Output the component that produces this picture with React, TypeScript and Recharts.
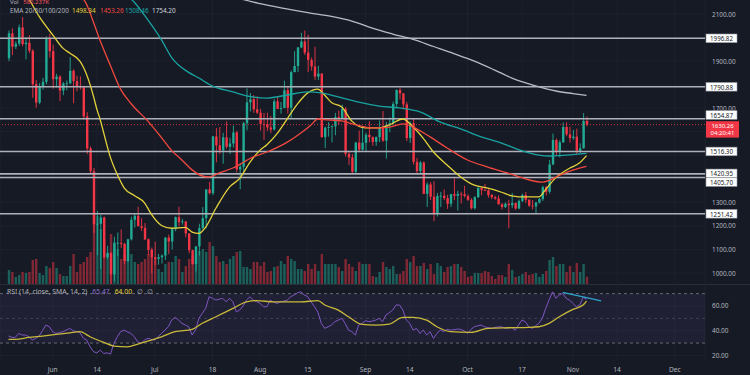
import React from 'react';
import { ComposedChart, Bar, Line, XAxis, YAxis, CartesianGrid, ReferenceLine, ReferenceArea } from 'recharts';

const FONT = '"Noto Sans", "DejaVu Sans", sans-serif';
const BG = '#161a25';
const GRID = '#1d212c';
const TEXT = '#b2b5be';
const UP = '#22ab94';
const DOWN = '#f23645';
const UP_VOL = 'rgba(34,171,148,0.48)';
const DOWN_VOL = 'rgba(242,54,69,0.48)';

// day offsets relative to 2022-06-01; first candle is 2022-05-19
const FIRST_DAY = -13;

const opens = [
  1912, 2018, 1961, 1974, 2043, 1972, 1978, 1944, 1802, 1724, 1793, 1812, 1996,
  1942, 1823, 1834, 1775, 1805, 1806, 1859, 1815, 1792, 1789, 1665, 1529,
  1432, 1207, 1209, 1236, 1067, 1086, 994, 1126, 1128, 1124, 1051, 1143, 1226, 1243, 1199, 1192, 1143, 1098,
  1067, 1060, 1067, 1074, 1150, 1134, 1186, 1237, 1216, 1219, 1168, 1097, 1038, 1113, 1191, 1233, 1355, 1339, 1580, 1542, 1521, 1576, 1536, 1550, 1597, 1440, 1451, 1636, 1725, 1738, 1695,
  1681, 1633, 1631, 1618, 1609, 1729, 1697, 1701, 1776, 1702, 1853, 1879, 1958, 1983, 1936, 1905, 1877, 1834, 1847, 1577, 1617, 1620, 1623, 1662, 1657, 1697, 1506, 1491, 1430, 1554, 1524,
  1553, 1587, 1577, 1557, 1577, 1617, 1562, 1630, 1636, 1718, 1777, 1763, 1716, 1573, 1637, 1472, 1433, 1469, 1336, 1376, 1324, 1252, 1327, 1328, 1318, 1294, 1335, 1328, 1336, 1334,
  1327, 1311, 1275, 1322, 1362, 1352, 1351, 1331, 1322, 1316, 1292, 1280, 1294, 1288, 1297, 1274, 1306, 1331, 1311, 1286, 1283, 1299, 1314, 1364, 1345, 1461, 1565, 1514, 1555, 1620, 1589,
  1573, 1579, 1519, 1530, 1646,
];
const highs = [
  2030, 2039, 1984, 2055, 2087, 1999, 2010, 1950, 1819, 1806, 1829, 2005, 2016,
  1970, 1846, 1840, 1811, 1818, 1917, 1865, 1838, 1835, 1792, 1683, 1538,
  1446, 1264, 1248, 1240, 1116, 1087, 1154, 1172, 1185, 1128, 1146, 1239, 1250, 1281, 1233, 1212, 1147, 1108,
  1133, 1081, 1079, 1153, 1163, 1192, 1240, 1281, 1230, 1221, 1169, 1099, 1114, 1209, 1280, 1355, 1387, 1582, 1616, 1620, 1595, 1644, 1574, 1626, 1604, 1466, 1642, 1784, 1764, 1756, 1750,
  1697, 1680, 1681, 1667, 1740, 1746, 1726, 1817, 1790, 1860, 1942, 1960, 2020, 2030, 2012, 1915, 1961, 1880, 1849, 1622, 1641, 1627, 1680, 1690, 1715, 1705, 1516, 1505, 1557, 1605, 1618,
  1595, 1645, 1580, 1580, 1648, 1688, 1641, 1660, 1728, 1780, 1787, 1764, 1727, 1644, 1655, 1489, 1476, 1474, 1385, 1386, 1390, 1340, 1345, 1355, 1332, 1336, 1402, 1349, 1345, 1370,
  1334, 1318, 1327, 1364, 1364, 1378, 1356, 1336, 1328, 1329, 1297, 1300, 1311, 1340, 1300, 1312, 1337, 1344, 1314, 1310, 1303, 1318, 1371, 1370, 1480, 1592, 1571, 1564, 1639, 1640, 1621,
  1608, 1613, 1551, 1679, 1665,
];
const lows = [
  1900, 1926, 1951, 1964, 1963, 1907, 1934, 1744, 1702, 1717, 1778, 1802, 1915,
  1783, 1787, 1730, 1755, 1776, 1802, 1721, 1772, 1779, 1652, 1505, 1421,
  1170, 1076, 1018, 1061, 1058, 881, 965, 1072, 1107, 1038, 1046, 1138, 1193, 1198, 1179, 1140, 1076, 998,
  1033, 1035, 1040, 1055, 1080, 1100, 1177, 1198, 1205, 1151, 1084, 1035, 1006, 1074, 1185, 1190, 1333, 1331, 1470, 1506, 1464, 1528, 1505, 1533, 1427, 1356, 1431, 1606, 1686, 1680, 1675,
  1605, 1565, 1603, 1594, 1606, 1696, 1677, 1700, 1677, 1655, 1853, 1853, 1955, 1926, 1853, 1860, 1820, 1820, 1575, 1530, 1579, 1555, 1585, 1630, 1654, 1495, 1459, 1423, 1423, 1513, 1520,
  1516, 1555, 1540, 1540, 1556, 1557, 1486, 1598, 1630, 1700, 1737, 1695, 1560, 1553, 1460, 1425, 1420, 1335, 1281, 1310, 1220, 1240, 1280, 1310, 1272, 1280, 1309, 1265, 1295, 1320,
  1306, 1270, 1270, 1319, 1330, 1349, 1320, 1314, 1311, 1291, 1270, 1276, 1190, 1275, 1268, 1271, 1301, 1297, 1281, 1270, 1255, 1295, 1306, 1329, 1337, 1458, 1500, 1491, 1553, 1581, 1554,
  1566, 1505, 1510, 1528, 1623,
];
const closes = [
  2018, 1961, 1974, 2043, 1972, 1978, 1944, 1802, 1724, 1793, 1812, 1996, 1942,
  1823, 1834, 1775, 1805, 1806, 1859, 1815, 1792, 1789, 1665, 1529, 1432,
  1207, 1209, 1236, 1067, 1086, 994, 1126, 1128, 1124, 1051, 1143, 1226, 1243, 1199, 1192, 1143, 1098, 1067,
  1060, 1067, 1074, 1150, 1134, 1186, 1237, 1216, 1219, 1168, 1097, 1038, 1113, 1191, 1233, 1355, 1339, 1580, 1542, 1521, 1576, 1536, 1550, 1597, 1440, 1451, 1636, 1725, 1738, 1695, 1681,
  1633, 1631, 1618, 1609, 1729, 1697, 1701, 1776, 1702, 1853, 1879, 1958, 1983, 1936, 1905, 1877, 1834, 1847, 1577, 1617, 1620, 1623, 1662, 1657, 1697, 1506, 1491, 1430, 1554, 1524, 1553,
  1587, 1577, 1557, 1577, 1617, 1562, 1630, 1636, 1718, 1777, 1763, 1716, 1573, 1637, 1472, 1433, 1469, 1336, 1376, 1324, 1252, 1327, 1328, 1318, 1294, 1335, 1328, 1336, 1334, 1327,
  1311, 1275, 1322, 1362, 1352, 1351, 1331, 1322, 1316, 1292, 1280, 1294, 1288, 1297, 1274, 1306, 1331, 1311, 1286, 1283, 1299, 1314, 1364, 1345, 1461, 1565, 1514, 1555, 1620, 1589, 1573,
  1579, 1519, 1530, 1646, 1630.26,
];
// volume in thousands
const volumesK = [
  1120, 960, 560, 720, 960, 880, 960, 1920, 2000, 880, 720, 1440, 1280,
  1760, 1280, 800, 640, 640, 1440, 2400, 960, 1600, 1760, 2160, 2560,
  5840, 5440, 4400, 3600, 2400, 4000, 3360, 2800, 2000, 2400, 2000, 2400, 1760, 1600, 1760, 2000, 2400, 2800,
  2000, 1200, 960, 1600, 1760, 1760, 2240, 2000, 960, 1440, 2000, 2240, 2400, 2640, 2800, 2560, 3360, 3040, 2240, 1760, 1840, 1600, 2000, 2240, 2560, 2640, 1360, 1360, 1200, 1760, 1760,
  1440, 1760, 960, 1040, 1360, 1440, 1840, 1600, 2240, 2000, 1840, 1200, 1200, 1040, 1600, 1200, 1600, 1040, 2400, 1600, 1600, 1600, 1600, 1360, 1040, 2000, 1600, 1360, 1040, 1760, 1600,
  1600, 1600, 640, 560, 960, 1760, 1360, 1200, 1440, 800, 800, 1040, 2000, 1760, 2240, 1440, 1440, 1680, 1200, 1600, 800, 1680, 1440, 960, 1360, 1440, 1600, 1600, 1360, 1040,
  560, 640, 880, 880, 880, 1040, 960, 640, 400, 720, 720, 560, 1600, 1120, 560, 640, 800, 960, 720, 800, 880, 560, 800, 1040, 1920, 2160, 1440, 1600, 1600, 960, 1440,
  960, 1680, 960, 1600, 580.237,
];

// moving averages: [day, value]
const ema20Pts = [
  [-13, 2330], [-10, 2245], [-7, 2165], [-4, 2090], [-1, 2030], [0, 2011], [3, 1955], [5, 1934], [8, 1900], [9, 1875],
  [11, 1800], [12, 1750], [13, 1695], [14, 1650], [15, 1595], [17, 1490], [19, 1418], [21, 1362], [24, 1329], [27, 1298],
  [29, 1250], [32, 1202], [35, 1190], [39, 1194], [41, 1174], [43, 1168], [45, 1195], [48, 1275], [52, 1365], [55, 1402],
  [58, 1470], [61, 1522], [63, 1545], [66, 1592], [69, 1655], [72, 1718], [75, 1765], [78, 1781], [80, 1755], [82, 1724],
  [85, 1705], [88, 1645], [92, 1616], [96, 1616], [99, 1629], [103, 1654], [106, 1620], [109, 1572], [112, 1514], [116, 1459],
  [120, 1408], [124, 1373], [128, 1360], [132, 1343], [135, 1328], [139, 1323], [143, 1323], [145, 1355], [148, 1405], [152, 1445],
  [155, 1468], [157, 1498.34],
];
const ema50Pts = [
  [-13, 2420], [0, 2260], [6, 2200], [9, 2165], [10, 2140], [12, 2065], [14, 1985], [17, 1880], [20, 1780], [23, 1720],
  [28, 1645], [32, 1575], [35, 1520], [38, 1480], [41, 1438], [44, 1412], [46, 1408], [49, 1425], [53, 1446], [59, 1493],
  [63, 1514], [69, 1556], [73, 1595], [76, 1629], [78, 1654], [81, 1650], [85, 1646], [89, 1630], [94, 1616], [99, 1620],
  [103, 1633], [106, 1620], [111, 1578], [116, 1531], [122, 1480], [128, 1450], [134, 1424], [139, 1400], [144, 1386], [146, 1393],
  [149, 1415], [153, 1437], [157, 1453.26],
];
const ema100Pts = [
  [-13, 2450], [10, 2260], [20, 2200], [24, 2150], [28, 2075], [32, 1990], [35, 1915], [40, 1852], [43, 1828], [47, 1794],
  [53, 1769], [57, 1752], [63, 1743], [69, 1756], [75, 1769], [79, 1765], [84, 1748], [90, 1726], [96, 1709], [102, 1701],
  [108, 1684], [114, 1641], [120, 1612], [126, 1578], [132, 1552], [137, 1524], [143, 1501], [146, 1497], [151, 1501], [157, 1508.46],
];
const ema200Pts = [
  [-13, 2640], [20, 2380], [40, 2262], [54, 2170], [61, 2144], [68, 2124], [75, 2106], [82, 2090], [88, 2070], [94, 2040],
  [100, 2015], [106, 1992], [112, 1962], [118, 1932], [124, 1900], [130, 1862], [136, 1822], [142, 1795], [148, 1773], [153, 1762],
  [157, 1754.2],
];

const rsiValues = [
  35.7, 34.6, 34.6, 37.8, 36.5, 36.5, 35.1, 32.4, 33.8, 35.7, 40, 44.6, 43.2,
  39.2, 37.8, 38.5, 39.2, 40.5, 41.9, 40, 39.2, 38.4, 34, 32.4, 27,
  23, 22.1, 24.3, 21.6, 22.1, 21.1, 29.8, 35.1, 39.2, 40.5, 39, 37.8, 35.1, 31, 29.8, 32.4, 33.8, 33,
  32.4, 35.1, 37.8, 40.5, 43.2, 48.6, 50.8, 48.6, 46, 44.6, 43.2, 36.5, 40.5, 50, 54, 58.1, 67.5, 66.2, 64.8, 65.5, 66.2, 63.4, 66.2, 63.4, 55.3, 56.7, 60, 64.8, 67.5, 64.8, 63.5,
  62.1, 59.4, 59.4, 64.8, 63, 62.1, 63.4, 64, 64.8, 67.5, 69, 70.7, 71.5, 68.9, 67.5, 63.4, 59.4, 55, 46, 41.9, 43.2, 44.6, 47.3, 48.6, 50, 46, 40.5, 39.2, 36.5, 44.6, 46,
  48.1, 47.3, 47.8, 48.6, 50, 47.3, 52.7, 54.5, 56.7, 60.8, 60.8, 56.7, 48.6, 46, 40.5, 41.9, 37.8, 40.5, 36.5, 39.2, 33.8, 37.8, 40.5, 39.2, 41.1, 40.5, 40.8, 41.3, 41.1, 40,
  37.8, 41, 43.2, 44, 44.6, 43.2, 42.5, 41.9, 42.7, 43, 43.2, 41.9, 42.3, 42.7, 40.5, 44.6, 48.6, 47.3, 43.2, 41.9, 44, 46, 50, 58.1, 64.8, 71.5, 66.2, 68.9, 70.2, 66.2, 64.8,
  62, 59.4, 60.8, 67, 65.47,
];
const rsiSmaPts = [
  [-13, 33], [-11, 33], [-7, 34.6], [-3, 35.7], [1, 37], [5, 38.3], [8, 39.2], [11, 35.1], [15, 30.6], [18, 27.6],
  [22, 27], [25, 29.2], [29, 32.4], [32, 35.1], [36, 39.2], [41, 41.1], [44, 46], [48, 51.3], [53, 58.1], [57, 63.4],
  [60, 64.3], [65, 63.4], [70, 63.4], [73, 63.4], [78, 64.3], [80, 60.8], [84, 56.7], [87, 51.3], [91, 45.1], [95, 44.6],
  [99, 45.4], [103, 50.8], [106, 50.8], [110, 48.6], [113, 43.2], [117, 39.2], [123, 38.7], [128, 41.9], [134, 42.4], [140, 42.7],
  [143, 43.2], [146, 46], [149, 51.3], [153, 57.3], [156, 60.8], [157, 64],
];
const rsiTrend = [[150, 71], [161.3, 64.2]];

const tickDays = [0, 13, 30, 47, 61, 75, 92, 105, 122, 138, 153, 166, 183];
const tickLabels = ['Jun', '14', 'Jul', '18', 'Aug', '15', 'Sep', '14', 'Oct', '17', 'Nov', '14', 'Dec'];
const priceTicks = [1000, 1100, 1200, 1300, 1700, 1900, 2100];
const priceGrid = [1000, 1100, 1200, 1300, 1400, 1500, 1600, 1700, 1800, 1900, 2000, 2100];
const rsiTicks = [20, 40, 60];
const levels = [1996.82, 1790.88, 1654.87, 1516.3, 1420.95, 1405.7, 1251.42];
// vertical nudge of a level's axis tag so neighbouring tags do not overlap
const levelTagShift: Record<string, number> = { '1654.87': -3.8, '1420.95': -0.5, '1405.70': 4.6 };
const lastPrice = 1630.26;
const countdown = '04:20:41';
const legendEma = { label: 'EMA 20/50/100/200', values: ['1498.34', '1453.26', '1508.46', '1754.20'] };
const legendVol = '580.237K';
const legendRsi = { label: 'RSI (14, close, SMA, 14, 2)', rsi: '65.47', sma: '64.00' };

const EMA_COLORS = ['#e3d23c', '#f0483e', '#19a3a0', '#b8bbc4'];

const DMIN = -15.5;
const DMAX = 191.85;
const PMIN = 953.3;
const PMAX = 2159.5;
const VMAX = 22720;
const RMIN = 16.3;
const RMAX = 77.8;

const toMap = (pts: number[][]) => new Map(pts.map(([d, v]) => [d, v]));
const m20 = toMap(ema20Pts);
const m50 = toMap(ema50Pts);
const m100 = toMap(ema100Pts);
const m200 = toMap(ema200Pts);
const mSma = toMap(rsiSmaPts);

const priceRows = opens.map((o, i) => {
  const d = FIRST_DAY + i;
  return {
    d,
    open: o,
    high: highs[i],
    low: lows[i],
    close: closes[i],
    range: [lows[i], highs[i]],
    vol: volumesK[i],
    ema20: m20.get(d),
    ema50: m50.get(d),
    ema100: m100.get(d),
    ema200: m200.get(d),
  };
});

const rsiRows = rsiValues.map((r, i) => {
  const d = FIRST_DAY + i;
  return { d, rsi: r, sma: mSma.get(d) };
});

const Candle = (props: any) => {
  const { x, y, width, height, payload } = props;
  if (!payload || x == null) return null;
  const { open, close, high, low } = payload;
  const color = close >= open ? UP : DOWN;
  const top = Math.min(y, y + height);
  const h = Math.abs(height);
  const ratio = high > low ? h / (high - low) : 0;
  const bodyTop = top + (high - Math.max(open, close)) * ratio;
  const bodyH = Math.max(Math.abs(open - close) * ratio, 0.8);
  const cx = x + width / 2;
  return (
    <g>
      <line x1={cx} x2={cx} y1={top} y2={top + h} stroke={color} strokeWidth={0.9} />
      <rect x={x} y={bodyTop} width={width} height={bodyH} fill={color} />
    </g>
  );
};

const VolBar = (props: any) => {
  const { x, y, width, height, payload } = props;
  if (!payload || x == null) return null;
  const color = payload.close >= payload.open ? UP_VOL : DOWN_VOL;
  return <rect x={x} y={Math.min(y, y + height)} width={width} height={Math.abs(height)} fill={color} />;
};

const LevelTag = (props: any) => {
  const { viewBox, text } = props;
  if (!viewBox) return null;
  const x0 = viewBox.x + viewBox.width + 1;
  const y0 = viewBox.y + (levelTagShift[text] || 0);
  return (
    <g>
      <rect x={x0} y={y0 - 4.3} width={31} height={8.6} fill="#ffffff" stroke="#9598a1" strokeWidth={0.6} />
      <text x={x0 + 15.5} y={y0 + 0.3} textAnchor="middle" dominantBaseline="central" fontSize={6.2} fill="#131722" fontFamily={FONT}>
        {text}
      </text>
    </g>
  );
};

const PriceTag = (props: any) => {
  const { viewBox } = props;
  if (!viewBox) return null;
  const x0 = viewBox.x + viewBox.width + 1;
  const y0 = viewBox.y;
  return (
    <g>
      <rect x={x0} y={y0 - 3.4} width={33} height={16.4} fill={DOWN} />
      <text x={x0 + 16.5} y={y0 + 1.5} textAnchor="middle" dominantBaseline="central" fontSize={6} fill="#ffffff" fontFamily={FONT}>
        {lastPrice.toFixed(2)}
      </text>
      <text x={x0 + 16.5} y={y0 + 8.8} textAnchor="middle" dominantBaseline="central" fontSize={6} fill="#ffffff" fontFamily={FONT}>
        {countdown}
      </text>
    </g>
  );
};

const AxisTick = (props: any) => {
  const { x, y, payload } = props;
  return (
    <text x={x + 7} y={y} dominantBaseline="central" textAnchor="start" fontSize={6.4} fill={TEXT} fontFamily={FONT}>
      {Number(payload.value).toFixed(2)}
    </text>
  );
};

const DateTick = (props: any) => {
  const { x, y, payload } = props;
  const idx = tickDays.indexOf(payload.value);
  return (
    <text x={x} y={y + 9} dominantBaseline="central" textAnchor="middle" fontSize={6.6} fill={TEXT} fontFamily={FONT}>
      {idx >= 0 ? tickLabels[idx] : ''}
    </text>
  );
};

const emaKeys = ['ema20', 'ema50', 'ema100', 'ema200'];

export default function App() {
  const legendStyle: React.CSSProperties = {
    position: 'absolute',
    fontSize: 6.4,
    lineHeight: '8px',
    whiteSpace: 'nowrap',
    color: TEXT,
    fontFamily: FONT,
  };
  return (
    <div style={{ position: 'fixed', left: 0, top: 0, width: 750, height: 375, background: BG, overflow: 'hidden', fontFamily: FONT }}>
      <div style={{ position: 'absolute', left: 0, top: 0 }}>
        <ComposedChart width={750} height={284} data={priceRows} margin={{ top: 0, right: 0, bottom: 0, left: 0 }}>
          <CartesianGrid xAxisId="p" yAxisId="p" stroke={GRID} horizontalValues={priceGrid} />
          <XAxis xAxisId="p" type="number" dataKey="d" domain={[DMIN, DMAX]} ticks={tickDays} hide allowDataOverflow />
          <XAxis xAxisId="v" type="number" dataKey="d" domain={[DMIN, DMAX]} hide allowDataOverflow />
          <YAxis
            yAxisId="p"
            orientation="right"
            width={45}
            domain={[PMIN, PMAX]}
            ticks={priceTicks}
            interval={0}
            allowDataOverflow
            axisLine={false}
            tickLine={false}
            tickSize={0}
            tickMargin={0}
            tick={<AxisTick />}
          />
          <YAxis yAxisId="v" hide domain={[0, VMAX]} allowDataOverflow />
          <Bar xAxisId="v" yAxisId="v" dataKey="vol" barSize={2.4} shape={<VolBar />} isAnimationActive={false} />
          {levels.map((lv) => (
            <ReferenceLine
              key={lv}
              xAxisId="p"
              yAxisId="p"
              y={lv}
              stroke="#aeb1ba"
              strokeWidth={1.6}
              label={<LevelTag text={lv.toFixed(2)} />}
            />
          ))}
          <ReferenceLine xAxisId="p" yAxisId="p" y={lastPrice} stroke={DOWN} strokeWidth={0.8} strokeDasharray="1 2" label={<PriceTag />} />
          <Bar xAxisId="p" yAxisId="p" dataKey="range" barSize={2.4} shape={<Candle />} isAnimationActive={false} />
          {emaKeys.map((k, i) => (
            <Line
              key={k}
              xAxisId="p"
              yAxisId="p"
              dataKey={k}
              type="monotone"
              connectNulls
              dot={false}
              activeDot={false}
              stroke={EMA_COLORS[i]}
              strokeWidth={1.3}
              isAnimationActive={false}
            />
          ))}
        </ComposedChart>
      </div>

      <div style={{ position: 'absolute', left: 0, top: 284, width: 750, height: 1, background: '#2a2e39' }} />

      <div style={{ position: 'absolute', left: 0, top: 284 }}>
        <ComposedChart width={750} height={91} data={rsiRows} margin={{ top: 0, right: 0, bottom: 0, left: 0 }}>
          <CartesianGrid stroke={GRID} horizontalValues={rsiTicks} />
          <XAxis
            type="number"
            dataKey="d"
            domain={[DMIN, DMAX]}
            ticks={tickDays}
            interval={0}
            height={15}
            allowDataOverflow
            axisLine={false}
            tickLine={false}
            tickSize={0}
            tickMargin={0}
            tick={<DateTick />}
          />
          <YAxis
            orientation="right"
            width={45}
            domain={[RMIN, RMAX]}
            ticks={rsiTicks}
            interval={0}
            allowDataOverflow
            axisLine={false}
            tickLine={false}
            tickSize={0}
            tickMargin={0}
            tick={<AxisTick />}
          />
          <ReferenceArea y1={30} y2={70} fill="#7e57c2" fillOpacity={0.1} stroke="none" />
          <ReferenceLine y={70} stroke="#787b86" strokeDasharray="3 3" strokeWidth={0.8} />
          <ReferenceLine y={50} stroke="#787b86" strokeDasharray="3 3" strokeWidth={0.6} strokeOpacity={0.6} />
          <ReferenceLine y={30} stroke="#787b86" strokeDasharray="3 3" strokeWidth={0.8} />
          <Line dataKey="rsi" type="linear" dot={false} activeDot={false} stroke="#7e57c2" strokeWidth={1} isAnimationActive={false} />
          <Line dataKey="sma" type="monotone" connectNulls dot={false} activeDot={false} stroke="#c9b93b" strokeWidth={1.3} isAnimationActive={false} />
          <ReferenceLine
            segment={[
              { x: rsiTrend[0][0], y: rsiTrend[0][1] },
              { x: rsiTrend[1][0], y: rsiTrend[1][1] },
            ]}
            stroke="#2ba6cc"
            strokeWidth={1.2}
          />
        </ComposedChart>
      </div>

      <div style={{ ...legendStyle, left: 10, top: 0, fontSize: 6, lineHeight: '5px' }}>
        Vol <span style={{ color: '#f7525f', marginLeft: 3 }}>{legendVol}</span>
      </div>
      <div style={{ ...legendStyle, left: 10, top: 6.5 }}>{legendEma.label}</div>
      <div style={{ ...legendStyle, left: 72, top: 6.5, color: EMA_COLORS[0] }}>{legendEma.values[0]}</div>
      <div style={{ ...legendStyle, left: 100, top: 6.5, color: EMA_COLORS[1] }}>{legendEma.values[1]}</div>
      <div style={{ ...legendStyle, left: 125, top: 6.5, color: EMA_COLORS[2] }}>{legendEma.values[2]}</div>
      <div style={{ ...legendStyle, left: 152, top: 6.5, color: '#d1d4dc' }}>{legendEma.values[3]}</div>

      <div style={{ ...legendStyle, left: 7, top: 288, fontSize: 6.8 }}>
        {legendRsi.label}
        <span style={{ color: '#8d6fd1', marginLeft: 5 }}>{legendRsi.rsi}</span>
        <span style={{ color: '#e3d23c', marginLeft: 5 }}>{legendRsi.sma}</span>
        <span style={{ marginLeft: 5 }}>∅</span>
        <span style={{ marginLeft: 4 }}>∅</span>
      </div>
    </div>
  );
}
